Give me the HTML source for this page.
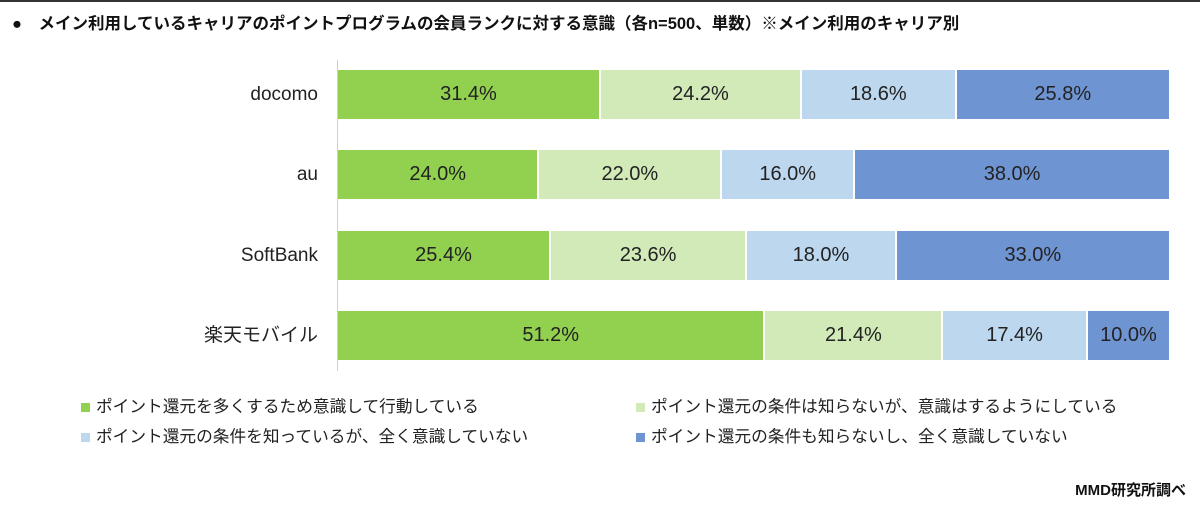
<!DOCTYPE html><html><head><meta charset="utf-8"><style>
body{margin:0;width:1200px;height:507px;background:#fff;position:relative;overflow:hidden;font-family:"Liberation Sans","Noto Sans CJK JP",sans-serif;color:#222}
.a{position:absolute;white-space:nowrap}
.bar{position:absolute;height:49px;display:flex}
.bar div{height:100%;display:flex;align-items:center;justify-content:center;font-size:20px;color:#222;box-sizing:border-box}
.bar div+div{border-left:2px solid #fff}
.c{position:absolute;right:882px;font-size:19px;line-height:49px}
.g{background:#92d050}.lg{background:#d2e9b8}.lb{background:#bdd7ee}.b{background:#6f94d2}
.sq{position:absolute;width:9px;height:9px}
.lt{position:absolute;font-size:16.7px;line-height:20px}
</style></head><body>
<div class="a" style="left:0;top:0;width:1200px;height:2px;background:#333"></div>
<div class="a" style="left:12px;top:10px;font-size:16.5px;font-weight:bold;color:#111">●　メイン利用しているキャリアのポイントプログラムの会員ランクに対する意識（各n=500、単数）※メイン利用のキャリア別</div>
<div class="a" style="left:337px;top:60px;width:1px;height:311px;background:#d0d0d0"></div>
<div class="c" style="top:70px">docomo</div>
<div class="bar" style="left:338px;top:70px;width:831px"><div class="g" style="width:31.4%">31.4%</div><div class="lg" style="width:24.2%">24.2%</div><div class="lb" style="width:18.6%">18.6%</div><div class="b" style="width:25.8%">25.8%</div></div>
<div class="c" style="top:150px">au</div>
<div class="bar" style="left:338px;top:150px;width:831px"><div class="g" style="width:24%">24.0%</div><div class="lg" style="width:22%">22.0%</div><div class="lb" style="width:16%">16.0%</div><div class="b" style="width:38%">38.0%</div></div>
<div class="c" style="top:231px">SoftBank</div>
<div class="bar" style="left:338px;top:231px;width:831px"><div class="g" style="width:25.4%">25.4%</div><div class="lg" style="width:23.6%">23.6%</div><div class="lb" style="width:18%">18.0%</div><div class="b" style="width:33%">33.0%</div></div>
<div class="c" style="top:311px">楽天モバイル</div>
<div class="bar" style="left:338px;top:311px;width:831px"><div class="g" style="width:51.2%">51.2%</div><div class="lg" style="width:21.4%">21.4%</div><div class="lb" style="width:17.4%">17.4%</div><div class="b" style="width:10%">10.0%</div></div>
<div class="sq g" style="left:81px;top:403px"></div><div class="lt" style="left:96px;top:397px">ポイント還元を多くするため意識して行動している</div>
<div class="sq lg" style="left:636px;top:403px"></div><div class="lt" style="left:651px;top:397px">ポイント還元の条件は知らないが、意識はするようにしている</div>
<div class="sq lb" style="left:81px;top:433px"></div><div class="lt" style="left:96px;top:427px">ポイント還元の条件を知っているが、全く意識していない</div>
<div class="sq b" style="left:636px;top:433px"></div><div class="lt" style="left:651px;top:427px">ポイント還元の条件も知らないし、全く意識していない</div>
<div class="a" style="right:14px;top:479px;font-size:15px;font-weight:bold;color:#111">MMD研究所調べ</div>
</body></html>
